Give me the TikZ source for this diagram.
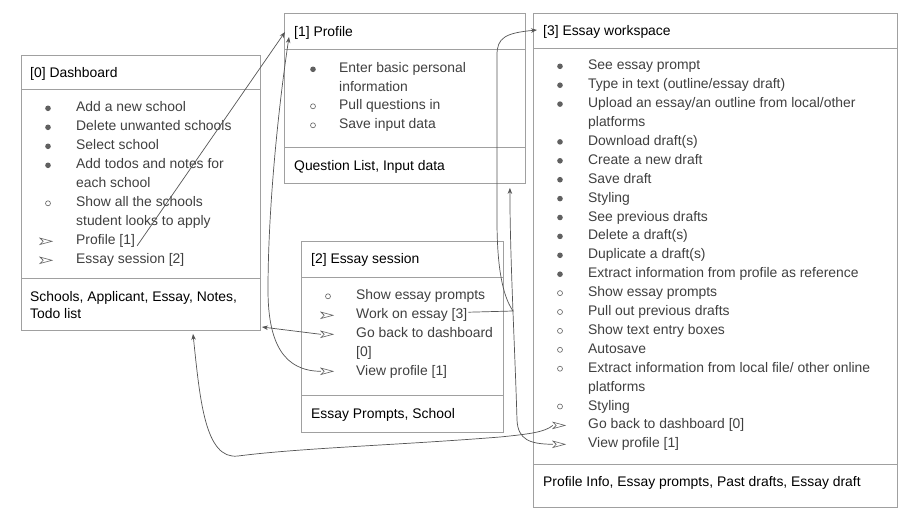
\documentclass[tikz,border=0pt]{standalone}
\usepackage{fontspec}
\setmainfont{Liberation Sans}
\usetikzlibrary{arrows.meta,calc}
\definecolor{boxgray}{HTML}{A0A0A0}
\definecolor{linegray}{HTML}{555555}
\definecolor{txtgray}{HTML}{404040}
\definecolor{bulgray}{HTML}{606060}
\newcommand\bulF[3]{\node[fb] (#1) at (#2,#3) {};}
\newcommand\bulO[3]{\node[ob] (#1) at (#2,#3) {};}
\newcommand\bulA[3]{\node[abul] (#1) at (#2,#3) {};
  \draw[bulgray,line width=0.6pt,line join=miter,fill=white] ($(#1.center)+(-6,-3.2)$) -- ($(#1.center)+(6,0)$) -- ($(#1.center)+(-6,3.2)$) -- ($(#1.center)+(-2.8,0)$) -- cycle;}
\newcommand\itm[4]{\node[itx] (#1) at (#2,#3) {#4};}
\begin{document}
\begin{tikzpicture}[x=1pt,y=-1pt,
  box/.style={draw=boxgray,line width=0.9pt,inner sep=0,anchor=north west},
  divider/.style={draw=boxgray,line width=0.9pt},
  ttl/.style={anchor=base west,inner sep=0,yshift=-0.8pt,font=\fontsize{13.9}{16}\selectfont,text=black},
  itx/.style={anchor=base west,inner sep=0,yshift=-0.8pt,font=\fontsize{13.9}{16}\selectfont,text=txtgray},
  fb/.style={circle,fill=bulgray,inner sep=0,minimum size=5.6pt,yshift=-0.8pt},
  ob/.style={circle,draw=bulgray,line width=0.6pt,inner sep=0,minimum size=5pt,yshift=-0.8pt},
  abul/.style={inner sep=0,minimum width=12pt,minimum height=6.4pt,yshift=-0.8pt},
  conn/.style={draw=linegray,line width=0.7pt,-{Stealth[length=6pt,width=4.5pt]}},
]
\useasboundingbox[fill=white] (0,0) rectangle (906,512);

% ---------- boxes ----------
\node[box,minimum width=239pt,minimum height=275pt] (dash) at (21,55) {};
\draw[divider] (dash.west |- 0,89) -- (dash.east |- 0,89);
\draw[divider] (dash.west |- 0,278) -- (dash.east |- 0,278);

\node[box,minimum width=241pt,minimum height=170pt] (prof) at (284,13) {};
\draw[divider] (prof.west |- 0,49) -- (prof.east |- 0,49);
\draw[divider] (prof.west |- 0,147) -- (prof.east |- 0,147);

\node[box,minimum width=202pt,minimum height=191pt] (sess) at (301,241) {};
\draw[divider] (sess.west |- 0,277) -- (sess.east |- 0,277);
\draw[divider] (sess.west |- 0,395) -- (sess.east |- 0,395);

\node[box,minimum width=364pt,minimum height=494pt] (work) at (533,13) {};
\draw[divider] (work.west |- 0,48) -- (work.east |- 0,48);
\draw[divider] (work.west |- 0,464) -- (work.east |- 0,464);

% ---------- [0] Dashboard ----------
\node[ttl] (dt) at (30,77) {[0] Dashboard};
\bulF{db1}{48}{107.5}\itm{d1}{76}{111}{Add a new school}
\bulF{db2}{48}{126.5}\itm{d2}{76}{130}{Delete unwanted schools}
\bulF{db3}{48}{145.5}\itm{d3}{76}{149}{Select school}
\bulF{db4}{48}{164.5}\itm{d4}{76}{168}{Add todos and notes for}
\itm{d4b}{76}{187}{each school}
\bulO{db5}{48}{202.5}\itm{d5}{76}{206}{Show all the schools}
\itm{d5b}{76}{225}{student looks to apply}
\bulA{db6}{46}{240.5}\itm{dprof}{76}{244}{Profile [1]}
\bulA{db7}{46}{259.5}\itm{dsess}{76}{263}{Essay session [2]}
\node[ttl] (dm1) at (30,301) {Schools, Applicant, Essay, Notes,};
\node[ttl] (dm2) at (30,317.5) {Todo list};

% ---------- [1] Profile ----------
\node[ttl] (pt) at (294,36) {[1] Profile};
\bulF{pb1}{313}{68.5}\itm{p1}{339}{72}{Enter basic personal}
\itm{p1b}{339}{90.5}{information}
\bulO{pb2}{313}{105.5}\itm{p2}{339}{109}{Pull questions in}
\bulO{pb3}{313}{124.5}\itm{p3}{339}{128}{Save input data}
\node[ttl] (pm) at (294,170) {Question List, Input data};

% ---------- [2] Essay session ----------
\node[ttl] (st) at (311,263) {[2] Essay session};
\bulO{sb1}{328}{295.5}\itm{s1}{356}{299}{Show essay prompts}
\bulA{sb2}{327}{314.5}\itm{s2}{356}{318}{Work on essay [3]}
\bulA{sb3}{327}{333.5}\itm{s3}{356}{337}{Go back to dashboard}
\itm{s3b}{356}{356}{[0]}
\bulA{sb5}{327}{370.5}\itm{s5}{356}{374.5}{View profile [1]}
\node[ttl] (sm) at (311,418) {Essay Prompts, School};

% ---------- [3] Essay workspace ----------
\node[ttl] (wt) at (543,35) {[3] Essay workspace};
\bulF{wb1}{560}{65.5}\itm{w1}{588}{69}{See essay prompt}
\bulF{wb2}{560}{84.4}\itm{w2}{588}{87.9}{Type in text (outline/essay draft)}
\bulF{wb3}{560}{103.3}\itm{w3}{588}{106.8}{Upload an essay/an outline from local/other}
\itm{w3b}{588}{125.7}{platforms}
\bulF{wb5}{560}{141.1}\itm{w5}{588}{144.6}{Download draft(s)}
\bulF{wb6}{560}{160}\itm{w6}{588}{163.5}{Create a new draft}
\bulF{wb7}{560}{178.9}\itm{w7}{588}{182.4}{Save draft}
\bulF{wb8}{560}{197.8}\itm{w8}{588}{201.3}{Styling}
\bulF{wb9}{560}{216.7}\itm{w9}{588}{220.2}{See previous drafts}
\bulF{wb10}{560}{235.6}\itm{w10}{588}{239.1}{Delete a draft(s)}
\bulF{wb11}{560}{254.5}\itm{w11}{588}{258}{Duplicate a draft(s)}
\bulF{wb12}{560}{273.4}\itm{w12}{588}{276.9}{Extract information from profile as reference}
\bulO{wb13}{560}{292.3}\itm{w13}{588}{295.8}{Show essay prompts}
\bulO{wb14}{560}{311.2}\itm{w14}{588}{314.7}{Pull out previous drafts}
\bulO{wb15}{560}{330.1}\itm{w15}{588}{333.6}{Show text entry boxes}
\bulO{wb16}{560}{349}\itm{w16}{588}{352.5}{Autosave}
\bulO{wb17}{560}{367.9}\itm{w17}{588}{371.4}{Extract information from local file/ other online}
\itm{w17b}{588}{390.3}{platforms}
\bulO{wb19}{560}{405.7}\itm{w19}{588}{409.2}{Styling}
\bulA{wb20}{559}{424.6}\itm{w20}{588}{428.1}{Go back to dashboard [0]}
\bulA{wb21}{559}{443.5}\itm{w21}{588}{447}{View profile [1]}
\node[ttl] (wm) at (543,486) {Profile Info, Essay prompts, Past drafts, Essay draft};

% ---------- connectors ----------
% Dashboard: Profile [1] -> Profile
\draw[conn] ($(dprof.base east)+(2,1)$) -- ($(prof.north west)+(1,19)$);
% Essay session: View profile [1] -> Profile
\draw[conn] (sb5.west) .. controls (285,371) and (268,345) .. (268,290)
  .. controls (268,210) and (278,110) .. ($(prof.north west)+(5,24)$);
% Essay session: Work on essay [3] -> Essay workspace
\draw[conn] ($(s2.east)+(1,-3)$) -- (513,311)
  .. controls (502,295) and (497,265) .. (497,220)
  -- (497,55) .. controls (497,38) and (505,33) .. ($(work.north west)+(4,17)$);
% Essay workspace: View profile [1] -> Profile
\draw[conn] (wb21.west) .. controls (530,444) and (518,440) .. (517,420)
  .. controls (515,350) and (510,260) .. ($(prof.south east)+(-16,4)$);
% Essay workspace: Go back to dashboard [0] -> Dashboard
\draw[conn] (wb20.west) .. controls (545,432) and (530,434) .. (500,437)
  .. controls (400,445) and (300,448) .. (238,456)
  .. controls (205,460) and (200,400) .. ($(dash.south west)+(172,3)$);
% Essay session: Go back to dashboard [0] -> Dashboard
\draw[conn] (sb3.west) -- ($(dash.east |- 0,327)+(1,0)$);
\end{tikzpicture}
\end{document}
